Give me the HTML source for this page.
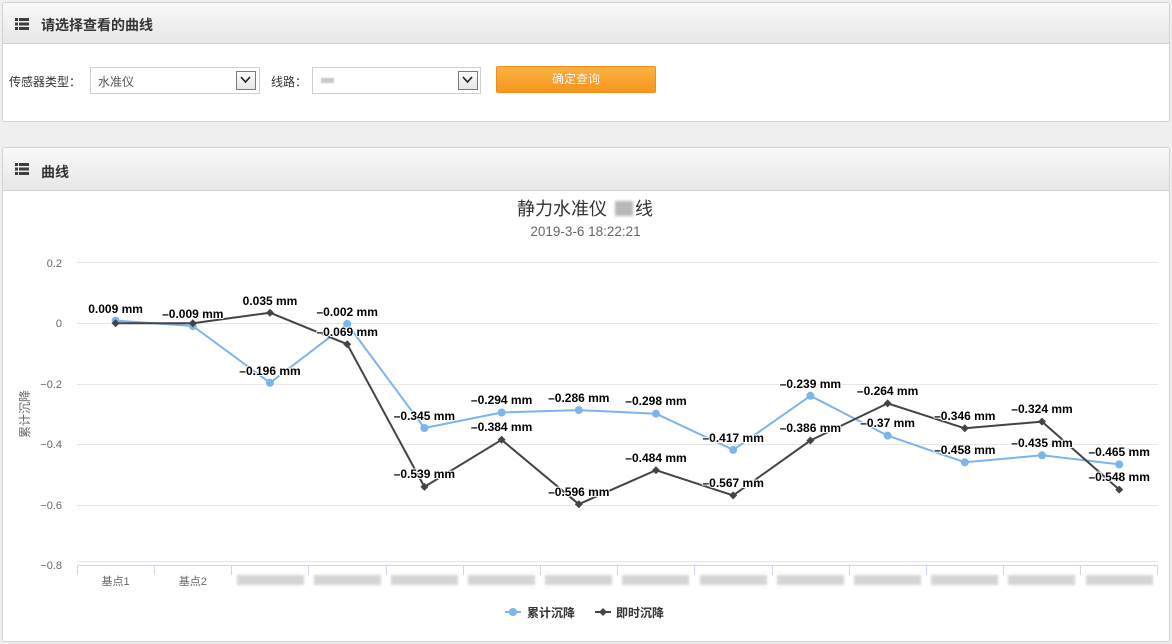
<!DOCTYPE html>
<html>
<head>
<meta charset="utf-8">
<style>
  html,body{margin:0;padding:0;}
  body{width:1172px;height:644px;overflow:hidden;background:#efefef;position:relative;
       font-family:"Liberation Sans","Noto Sans CJK SC",sans-serif;color:#333;}
  .panel{position:absolute;box-sizing:border-box;border:1px solid #d2d2d2;background:#fff;border-radius:3px;overflow:hidden;}
  .hdr{position:absolute;left:0;top:0;right:0;box-sizing:border-box;
       background:linear-gradient(#f9f9f9,#e7e7e7);border-bottom:1px solid #d3d3d3;}
  .hdr .t{position:absolute;left:38px;font-size:14px;font-weight:bold;color:#333;white-space:nowrap;}
  .lbl{position:absolute;font-size:12px;color:#333;white-space:nowrap;font-family:"Noto Sans CJK SC","Liberation Sans",sans-serif;line-height:16px;}
  .sel{position:absolute;box-sizing:border-box;border:1px solid #cfcfcf;background:#fff;}
  .arr{position:absolute;box-sizing:border-box;width:20px;height:19px;border:1px solid #7a7a7a;
       background:linear-gradient(#fdfdfd,#e6e6e6);}
  .btn{position:absolute;left:496px;top:66px;width:160px;height:27px;box-sizing:border-box;border-radius:2px;
       background:linear-gradient(#fbb241,#f7951c);border:1px solid #eb8f1f;color:#fff;font-size:12px;
       text-align:center;line-height:25px;text-shadow:0 0 1px rgba(150,80,0,0.5);}
</style>
</head>
<body>

<!-- Panel 1 -->
<div class="panel" style="left:2px;top:2px;width:1168px;height:120px;">
  <div class="hdr" style="height:41px;">
    <div class="t" style="top:12px;">请选择查看的曲线</div>
  </div>
</div>

<!-- Form controls -->
<div class="lbl" style="left:9px;top:74px;">传感器类型：</div>
<div class="sel" style="left:90px;top:67px;width:170px;height:27px;">
  <div style="position:absolute;left:7px;top:5px;font-size:12px;color:#555;">水准仪</div>
  <div class="arr" style="left:145px;top:3px;"></div>
</div>
<div class="lbl" style="left:271px;top:74px;">线路：</div>
<div class="sel" style="left:312px;top:67px;width:169px;height:27px;">
  <div style="position:absolute;left:8px;top:10px;width:13px;height:5px;background:#c9c9c9;filter:blur(0.6px);"></div>
  <div class="arr" style="left:145px;top:3px;"></div>
</div>
<div class="btn">确定查询</div>

<!-- Panel 2 -->
<div class="panel" style="left:2px;top:147px;width:1168px;height:495px;">
  <div class="hdr" style="height:43px;">
    <div class="t" style="top:14px;">曲线</div>
  </div>
</div>

<svg width="1172" height="644" style="position:absolute;left:0;top:0;" xmlns="http://www.w3.org/2000/svg"
     font-family="Liberation Sans, Noto Sans CJK SC, sans-serif">
  <defs>
    <filter id="bl" x="-20%" y="-50%" width="140%" height="200%"><feGaussianBlur stdDeviation="1.4"/></filter>
  </defs>

  <!-- header icons -->
  <g fill="#3d3d3d">
    <rect x="15" y="18" width="3" height="3"/><rect x="19" y="18" width="10" height="3"/>
    <rect x="15" y="22.5" width="3" height="3"/><rect x="19" y="22.5" width="10" height="3"/>
    <rect x="15" y="27" width="3" height="3"/><rect x="19" y="27" width="10" height="3"/>
    <rect x="15" y="163" width="3" height="3"/><rect x="19" y="163" width="10" height="3"/>
    <rect x="15" y="167.5" width="3" height="3"/><rect x="19" y="167.5" width="10" height="3"/>
    <rect x="15" y="172" width="3" height="3"/><rect x="19" y="172" width="10" height="3"/>
  </g>

  <!-- select chevrons -->
  <g fill="none" stroke="#222" stroke-width="1.6">
    <path d="M241,77 L245.5,82 L250,77"/>
    <path d="M463,77 L467.5,82 L472,77"/>
  </g>

  <!-- title -->
  <text x="517" y="215" font-size="18" fill="#333">静力水准仪</text>
  <rect x="615" y="201" width="18" height="15" fill="#b8b8b8" filter="url(#bl)"/>
  <text x="635" y="215" font-size="18" fill="#333">线</text>
  <text x="585.5" y="236" font-size="13.5" fill="#666" text-anchor="middle">2019-3-6 18:22:21</text>

  <!-- grid -->
  <g stroke="#e6e6e6" stroke-width="1">
    <line x1="77" y1="262.5" x2="1158" y2="262.5"/>
    <line x1="77" y1="323.5" x2="1158" y2="323.5"/>
    <line x1="77" y1="384.5" x2="1158" y2="384.5"/>
    <line x1="77" y1="444.5" x2="1158" y2="444.5"/>
    <line x1="77" y1="505.5" x2="1158" y2="505.5"/>
    <line x1="77" y1="561.5" x2="1158" y2="561.5"/>
  </g>
  <!-- x axis -->
  <g stroke="#ccd6eb" stroke-width="1">
    <line x1="77" y1="565.5" x2="1158" y2="565.5"/>
    <line x1="77.5" y1="565" x2="77.5" y2="575"/>
    <line x1="154.5" y1="565" x2="154.5" y2="575"/>
    <line x1="231.5" y1="565" x2="231.5" y2="575"/>
    <line x1="308.5" y1="565" x2="308.5" y2="575"/>
    <line x1="386.5" y1="565" x2="386.5" y2="575"/>
    <line x1="463.5" y1="565" x2="463.5" y2="575"/>
    <line x1="540.5" y1="565" x2="540.5" y2="575"/>
    <line x1="617.5" y1="565" x2="617.5" y2="575"/>
    <line x1="694.5" y1="565" x2="694.5" y2="575"/>
    <line x1="772.5" y1="565" x2="772.5" y2="575"/>
    <line x1="849.5" y1="565" x2="849.5" y2="575"/>
    <line x1="926.5" y1="565" x2="926.5" y2="575"/>
    <line x1="1003.5" y1="565" x2="1003.5" y2="575"/>
    <line x1="1080.5" y1="565" x2="1080.5" y2="575"/>
    <line x1="1157.5" y1="565" x2="1157.5" y2="575"/>
  </g>

  <!-- y labels -->
  <g font-size="11" fill="#666" text-anchor="end">
    <text x="62" y="267">0.2</text>
    <text x="62" y="327">0</text>
    <text x="62" y="388">−0.2</text>
    <text x="62" y="448">−0.4</text>
    <text x="62" y="509">−0.6</text>
    <text x="62" y="569">−0.8</text>
  </g>
  <text transform="translate(29,414) rotate(-90)" font-size="12" fill="#666" text-anchor="middle">累计沉降</text>

  <!-- x labels -->
  <g font-size="11" fill="#666" text-anchor="middle">
    <text x="115.6" y="585">基点1</text>
    <text x="192.8" y="585">基点2</text>
  </g>
  <g fill="#d4d4d4" filter="url(#bl)">
    <rect x="237" y="575" width="67" height="10"/>
    <rect x="314" y="575" width="67" height="10"/>
    <rect x="391" y="575" width="67" height="10"/>
    <rect x="468" y="575" width="67" height="10"/>
    <rect x="545" y="575" width="67" height="10"/>
    <rect x="622" y="575" width="67" height="10"/>
    <rect x="700" y="575" width="67" height="10"/>
    <rect x="777" y="575" width="67" height="10"/>
    <rect x="854" y="575" width="67" height="10"/>
    <rect x="931" y="575" width="67" height="10"/>
    <rect x="1008" y="575" width="67" height="10"/>
    <rect x="1086" y="575" width="67" height="10"/>
  </g>

  <!-- blue series -->
  <path d="M115.6,320.6 L192.8,326.0 L270.0,382.8 L347.2,323.9 L424.4,428.0 L501.6,412.5 L578.8,410.1 L656.0,413.7 L733.2,449.9 L810.4,395.8 L887.6,435.6 L964.8,462.3 L1042.0,455.3 L1119.2,464.4"
        fill="none" stroke="#7cb5ec" stroke-width="2" stroke-linejoin="round"/>
  <g fill="#7cb5ec">
    <circle cx="115.6" cy="320.6" r="4"/><circle cx="192.8" cy="326.0" r="4"/>
    <circle cx="270.0" cy="382.8" r="4"/><circle cx="347.2" cy="323.9" r="4"/>
    <circle cx="424.4" cy="428.0" r="4"/><circle cx="501.6" cy="412.5" r="4"/>
    <circle cx="578.8" cy="410.1" r="4"/><circle cx="656.0" cy="413.7" r="4"/>
    <circle cx="733.2" cy="449.9" r="4"/><circle cx="810.4" cy="395.8" r="4"/>
    <circle cx="887.6" cy="435.6" r="4"/><circle cx="964.8" cy="462.3" r="4"/>
    <circle cx="1042.0" cy="455.3" r="4"/><circle cx="1119.2" cy="464.4" r="4"/>
  </g>

  <!-- black series -->
  <path d="M115.6,323.3 L192.8,323.3 L270.0,312.7 L347.2,344.2 L424.4,486.9 L501.6,439.8 L578.8,504.2 L656.0,470.2 L733.2,495.4 L810.4,440.5 L887.6,403.4 L964.8,428.3 L1042.0,421.6 L1119.2,489.6"
        fill="none" stroke="#434348" stroke-width="2" stroke-linejoin="round"/>
  <g fill="#434348">
    <path d="M115.6,319.3 L119.6,323.3 L115.6,327.3 L111.6,323.3Z"/>
    <path d="M192.8,319.3 L196.8,323.3 L192.8,327.3 L188.8,323.3Z"/>
    <path d="M270.0,308.7 L274.0,312.7 L270.0,316.7 L266.0,312.7Z"/>
    <path d="M347.2,340.2 L351.2,344.2 L347.2,348.2 L343.2,344.2Z"/>
    <path d="M424.4,482.9 L428.4,486.9 L424.4,490.9 L420.4,486.9Z"/>
    <path d="M501.6,435.8 L505.6,439.8 L501.6,443.8 L497.6,439.8Z"/>
    <path d="M578.8,500.2 L582.8,504.2 L578.8,508.2 L574.8,504.2Z"/>
    <path d="M656.0,466.2 L660.0,470.2 L656.0,474.2 L652.0,470.2Z"/>
    <path d="M733.2,491.4 L737.2,495.4 L733.2,499.4 L729.2,495.4Z"/>
    <path d="M810.4,436.5 L814.4,440.5 L810.4,444.5 L806.4,440.5Z"/>
    <path d="M887.6,399.4 L891.6,403.4 L887.6,407.4 L883.6,403.4Z"/>
    <path d="M964.8,424.3 L968.8,428.3 L964.8,432.3 L960.8,428.3Z"/>
    <path d="M1042.0,417.6 L1046.0,421.6 L1042.0,425.6 L1038.0,421.6Z"/>
    <path d="M1119.2,485.6 L1123.2,489.6 L1119.2,493.6 L1115.2,489.6Z"/>
  </g>

  <!-- data labels -->
  <g font-size="12" font-weight="bold" fill="#000" text-anchor="middle"
     style="paint-order:stroke;stroke:#fff;stroke-width:2px;stroke-linejoin:round;">
    <text x="115.6" y="313">0.009 mm</text>
    <text x="192.8" y="318">–0.009 mm</text>
    <text x="270.0" y="375">–0.196 mm</text>
    <text x="347.2" y="316">–0.002 mm</text>
    <text x="424.4" y="420">–0.345 mm</text>
    <text x="501.6" y="404">–0.294 mm</text>
    <text x="578.8" y="402">–0.286 mm</text>
    <text x="656.0" y="405">–0.298 mm</text>
    <text x="733.2" y="442">–0.417 mm</text>
    <text x="810.4" y="388">–0.239 mm</text>
    <text x="887.6" y="427">–0.37 mm</text>
    <text x="964.8" y="454">–0.458 mm</text>
    <text x="1042.0" y="447">–0.435 mm</text>
    <text x="1119.2" y="456">–0.465 mm</text>

    <text x="270.0" y="305">0.035 mm</text>
    <text x="347.2" y="336">–0.069 mm</text>
    <text x="424.4" y="478">–0.539 mm</text>
    <text x="501.6" y="431">–0.384 mm</text>
    <text x="578.8" y="496">–0.596 mm</text>
    <text x="656.0" y="462">–0.484 mm</text>
    <text x="733.2" y="487">–0.567 mm</text>
    <text x="810.4" y="432">–0.386 mm</text>
    <text x="887.6" y="395">–0.264 mm</text>
    <text x="964.8" y="420">–0.346 mm</text>
    <text x="1042.0" y="413">–0.324 mm</text>
    <text x="1119.2" y="481">–0.548 mm</text>
  </g>

  <!-- legend -->
  <line x1="505" y1="612" x2="521" y2="612" stroke="#7cb5ec" stroke-width="2"/>
  <circle cx="513" cy="612" r="4" fill="#7cb5ec"/>
  <text x="527" y="617" font-size="12" font-weight="bold" fill="#333">累计沉降</text>
  <line x1="595" y1="612" x2="611" y2="612" stroke="#434348" stroke-width="2"/>
  <path d="M603,608 L607,612 L603,616 L599,612Z" fill="#434348"/>
  <text x="616" y="617" font-size="12" font-weight="bold" fill="#333">即时沉降</text>
</svg>

</body>
</html>
